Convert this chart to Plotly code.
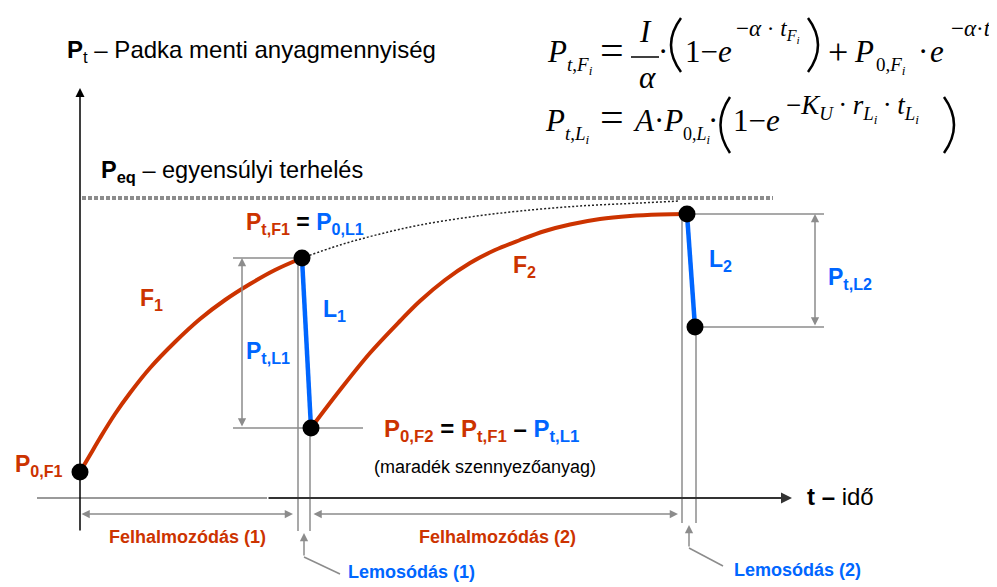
import plotly.graph_objects as go

# values; t = time, P = load, origin where the axes cross
t_F1 = [0, 10, 20, 35, 50, 70, 95, 120, 145, 170, 195, 222]
P_F1 = [26, 43, 60, 84, 105, 130, 156, 179, 198, 214, 228, 240]

# F1 curve if no wash-off had happened
t_F1_cont = [222, 260, 300, 340, 390, 440, 500, 560, 600]
P_F1_cont = [240, 253, 264, 273, 281, 287, 292, 295, 297]

t_F2 = [231, 260, 290, 320, 340, 365, 390, 415, 440, 465, 490, 520, 550, 580, 607]
P_F2 = [70, 108, 145, 177, 197, 218, 235, 248, 258, 267, 273.5, 279, 282, 283.5, 284]

# key points: P0,F1 | Pt,F1 = P0,L1 | P0,F2 | Pt,F2 = P0,L2 | after L2
t_key = [0, 222, 231, 607, 615]
P_key = [26, 240, 70, 284, 171]

P_eq = 300
t_eq = [2, 693]

RED = '#CC3300'
BLUE = '#0066FF'
GRAY = '#8c8c8c'
SANS = 'Liberation Sans, Arial, sans-serif'
SERIF = 'Liberation Serif, Times New Roman, serif'

# page pixel -> data helpers for placing the text pieces
T0, PY0 = 80, 498
def X(px): return px - T0
def Y(py): return PY0 - py

KS, KS_SUB = 0.3465, 0.2735      # sans: box centre above baseline (em)
KR, KR_SUB, KR_SUB2 = 0.3375, 0.265, 0.214   # serif

fig = go.Figure()

def label(px, base, text, size, color='black', anchor='left', font=SANS, k=KS_SUB):
    fig.add_annotation(x=X(px), y=Y(base - k * size), text=text, xanchor=anchor, yanchor='middle',
                       showarrow=False, borderpad=0,
                       font=dict(family=font, size=size, color=color))

def math(px, base, text, size, anchor='left', k=KR):
    label(px, base, text, size, 'black', anchor, SERIF, k)

def paren(edge, bow, top, bot):
    path = f"M {X(edge)},{Y(top)} Q {X(bow)},{Y((top + bot) / 2)} {X(edge)},{Y(bot)}"
    fig.add_shape(type='path', path=path, line=dict(color='black', width=2.5))

def seg(x0, y0, x1, y1, color=GRAY, width=1.5, layer='below'):
    fig.add_shape(type='line', x0=x0, y0=y0, x1=x1, y1=y1, layer=layer,
                  line=dict(color=color, width=width))

def arrow(x0, y0, x1, y1, color=GRAY, both=False, width=1.5, size=1.1):
    fig.add_annotation(x=x1, y=y1, ax=x0, ay=y0, xref='x', yref='y', axref='x', ayref='y', text='',
                       showarrow=True, arrowhead=2, arrowsize=size, arrowwidth=width, arrowcolor=color,
                       startarrowhead=2, startarrowsize=size,
                       arrowside='end+start' if both else 'end', standoff=0, startstandoff=0)

# axes
seg(-43, 0, 187, 0, '#9a9a9a', 2)
arrow(187, 0, 712, 0, '#333333', width=2, size=1.1)
arrow(0, -34, 0, 410, 'black', width=1.5, size=1.2)

# dimension / helper lines
seg(t_key[1] - 69, P_key[1], t_key[1], P_key[1])
seg(t_key[1] - 69, P_key[2], t_key[2] + 52, P_key[2])
seg(t_key[1] - 4, P_key[1], t_key[1] - 4, -33)
seg(t_key[2] - 1, P_key[2], t_key[2] - 1, -33)
seg(t_key[3] - 5, P_key[3], t_key[3] - 5, -25)
seg(t_key[4] + 1, P_key[4], t_key[4] + 1, -25)
seg(t_key[3], P_key[3], 744, P_key[3])
seg(t_key[4], P_key[4], 744, P_key[4])
arrow(162, P_key[2], 162, P_key[1], both=True)
arrow(735, P_key[4], 735, P_key[3], both=True)
arrow(t_key[0], -16, t_key[1] - 9, -16, both=True)
arrow(t_key[2] + 1, -16, t_key[3] - 9, -16, both=True)
arrow(224, -59, 224, -35)
seg(224, -59, 260, -76)
arrow(609, -50, 609, -27)
seg(609, -50, 643, -68)

# equilibrium level and curves
fig.add_trace(go.Scatter(x=t_eq, y=[P_eq, P_eq], mode='lines',
                         line=dict(color=GRAY, width=4, dash='4px,2px')))
fig.add_trace(go.Scatter(x=t_F1_cont, y=P_F1_cont, mode='lines', line_shape='spline',
                         line=dict(color='#222222', width=1.5, dash='2px,2px')))
fig.add_trace(go.Scatter(x=t_F1, y=P_F1, mode='lines', line_shape='spline',
                         line=dict(color=RED, width=4)))
fig.add_trace(go.Scatter(x=t_F2, y=P_F2, mode='lines', line_shape='spline',
                         line=dict(color=RED, width=4)))
fig.add_trace(go.Scatter(x=t_key[1:3], y=P_key[1:3], mode='lines', line=dict(color=BLUE, width=4.5)))
fig.add_trace(go.Scatter(x=t_key[3:5], y=P_key[3:5], mode='lines', line=dict(color=BLUE, width=4.5)))
fig.add_trace(go.Scatter(x=t_key, y=P_key, mode='markers', marker=dict(color='black', size=17)))

# labels
label(66, 58.3, "<b>P</b><sub>t</sub> – Padka menti anyagmennyiség", 24)
label(100, 178.3, "<b>P<sub>eq</sub></b> – egyensúlyi terhelés", 23.5)
label(14, 472, "<b>P<sub>0,F1</sub></b>", 23, RED)
label(245, 230, f"<b><span style='color:{RED}'>P<sub>t,F1</sub></span> = "
                f"<span style='color:{BLUE}'>P<sub>0,L1</sub></span></b>", 23)
label(139, 306, "<b>F<sub>1</sub></b>", 23, RED)
label(322, 317, "<b>L<sub>1</sub></b>", 23, BLUE)
label(245, 359, "<b>P<sub>t,L1</sub></b>", 23, BLUE)
label(383, 437, f"<b><span style='color:{RED}'>P<sub>0,F2</sub></span> = "
                f"<span style='color:{RED}'>P<sub>t,F1</sub></span> – "
                f"<span style='color:{BLUE}'>P<sub>t,L1</sub></span></b>", 24)
label(373, 473, "(maradék szennyezőanyag)", 18, k=KS)
label(512, 273, "<b>F<sub>2</sub></b>", 23, RED)
label(708, 267, "<b>L<sub>2</sub></b>", 23, BLUE)
label(827, 285, "<b>P<sub>t,L2</sub></b>", 23, BLUE)
label(806, 505, "<b>t –</b> idő", 24, k=KS)
label(187, 543, "<b>Felhalmozódás (1)</b>", 18, RED, 'center', k=KS)
label(497, 543, "<b>Felhalmozódás (2)</b>", 18, RED, 'center', k=KS)
label(347, 578, "<b>Lemosódás (1)</b>", 18, BLUE, k=KS)
label(733, 576, "<b>Lemosódás (2)</b>", 18, BLUE, k=KS)

# formulas
SUB_FI = "<i>t</i><sub><i>F</i><sub><i>i</i></sub></sub>"
B1, B2 = 62, 131
math(546, B1, "<i>P</i>", 31)
math(566, 71, "<i>t</i>,<i>F</i><sub><i>i</i></sub>", 19, k=KR_SUB)
math(612, 64.5, "=", 42, 'center')
math(645, 42, "<i>I</i>", 31, 'center')
seg(X(631), Y(57), X(659), Y(57), 'black', 1.5, 'above')
math(647, 88, "<i>α</i>", 31, 'center')
math(663, B1, "·", 31, 'center')
paren(681, 661, 18, 72)
math(684, B1, "1−<i>e</i>", 31)
math(735, 36, "−<i>α</i> · " + SUB_FI, 23, k=KR_SUB2)
paren(808, 828, 18, 72)
math(838, 64, "+", 36, 'center')
math(853, B1, "<i>P</i>", 31)
math(875, 71, "0,<i>F</i><sub><i>i</i></sub>", 19, k=KR_SUB)
math(923, B1, "·", 31, 'center')
math(929, B1, "<i>e</i>", 31)
math(950, 36, "−<i>α</i>·" + SUB_FI, 23, k=KR_SUB2)

math(544, B2, "<i>P</i>", 31)
math(564, 140, "<i>t</i>,<i>L</i><sub><i>i</i></sub>", 19, k=KR_SUB)
math(612, 131.5, "=", 42, 'center')
math(632, B2, "<i>A</i>·<i>P</i>", 31)
math(682, 140, "0,<i>L</i><sub><i>i</i></sub>", 18, k=KR_SUB)
math(713, B2, "·", 31, 'center')
paren(730, 711, 97, 153)
math(732, B2, "1−<i>e</i>", 31)
math(785, 114, "−<i>K</i><sub><i>U</i></sub>\u2009·\u2009<i>r</i><sub><i>L</i><sub><i>i</i></sub></sub>"
               "\u2009·\u2009<i>t</i><sub><i>L</i><sub><i>i</i></sub></sub>", 27, k=KR_SUB2)
paren(944, 964, 97, 153)

# the page body keeps an 8 px margin, so the figure is 8 px smaller and the ranges start 8 px in
fig.update_xaxes(range=[-72, 917], visible=False, fixedrange=True)
fig.update_yaxes(range=[-89, 490], visible=False, fixedrange=True)
fig.update_layout(width=989, height=579, margin=dict(l=0, r=0, t=0, b=0),
                  plot_bgcolor='white', paper_bgcolor='white', showlegend=False)

fig.write_html("out.html")
